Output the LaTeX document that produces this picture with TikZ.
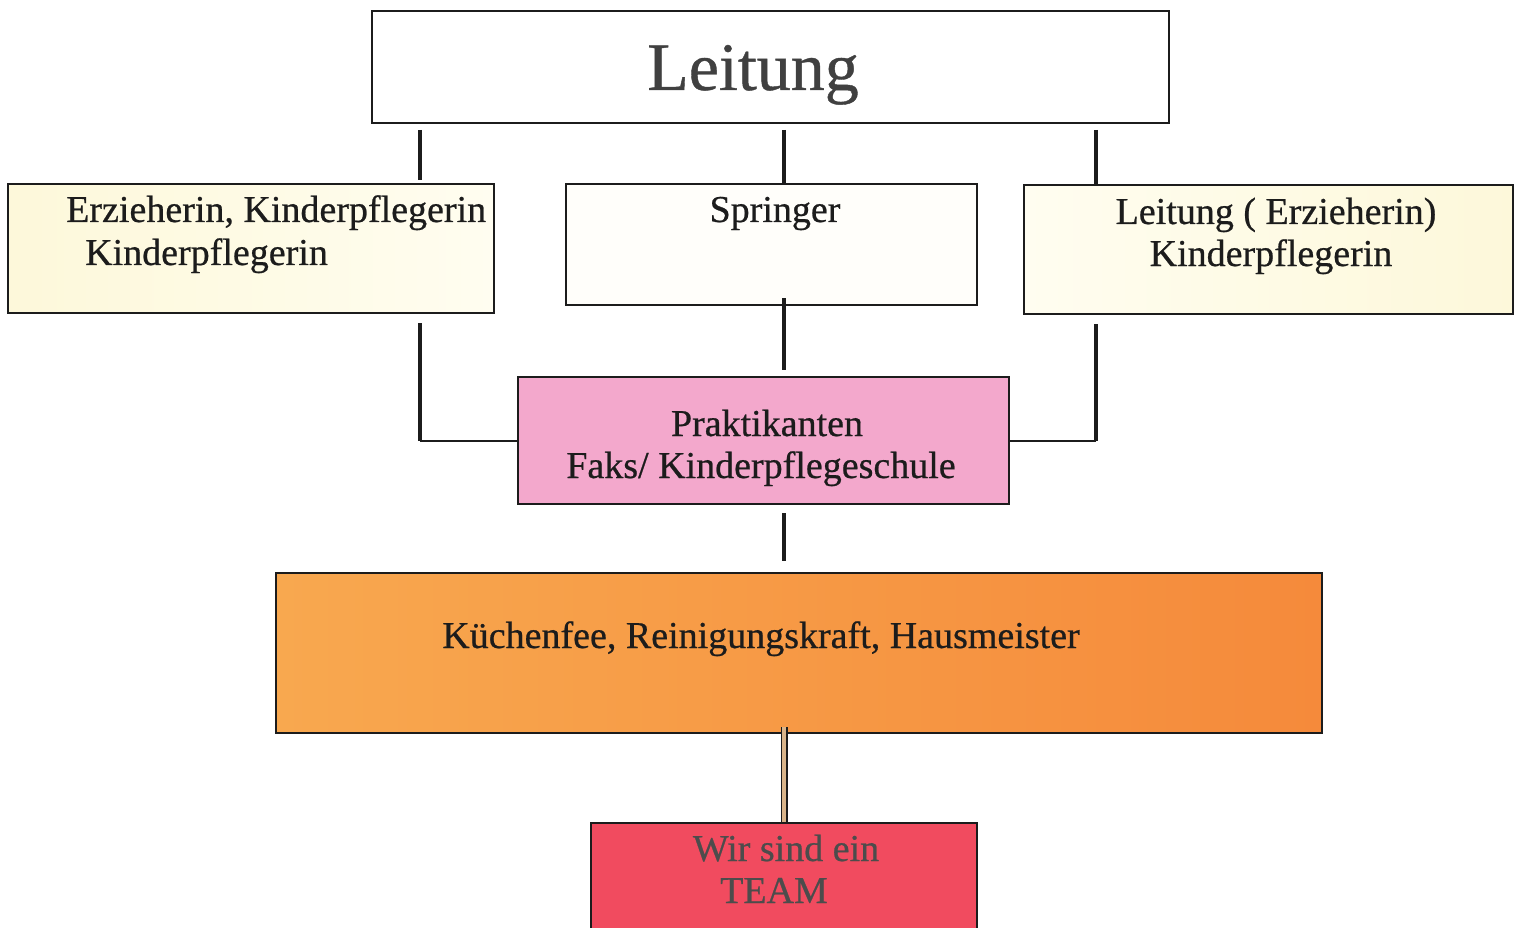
\documentclass[tikz,border=0pt]{standalone}
\usepackage{fontspec}
\setmainfont{Liberation Serif}[FakeBold=0.6]
\definecolor{cream}{HTML}{FFFDF0}
\definecolor{creamy}{HTML}{FDF8DA}
\definecolor{creamw}{HTML}{FFFEFA}
\definecolor{pinkbox}{HTML}{F3A8CC}
\definecolor{orL}{HTML}{F8A84F}
\definecolor{orR}{HTML}{F58A3B}
\definecolor{teamred}{HTML}{F14B5F}
\definecolor{ink}{HTML}{1C1C1C}
\definecolor{tan}{HTML}{D9B48A}
\tikzset{
  box/.style={draw=ink, line width=2pt, inner sep=0pt, outer sep=0pt},
  conn/.style={draw=ink, line width=4.5pt},
  thin/.style={draw=ink, line width=2pt},
  txt/.style={anchor=base, inner sep=0pt, text=ink, font=\fontsize{38}{44}\selectfont},
}
\begin{document}
\begin{tikzpicture}[x=1pt,y=-1pt]
\useasboundingbox[fill=white] (0,0) rectangle (1521,928);
% boxes
\node[box, fill=white, minimum width=797pt, minimum height=112pt] (lead) at (770.5,67) {};
\node[box, left color=creamy, right color=cream, minimum width=486pt, minimum height=129pt] (left) at (251,248.5) {};
\node[box, fill=creamw, minimum width=411pt, minimum height=121pt] (spr) at (771.5,244.5) {};
\node[box, left color=cream, right color=creamy, minimum width=489pt, minimum height=129pt] (right) at (1268.5,249.5) {};
\node[box, fill=pinkbox, minimum width=491pt, minimum height=127pt] (prak) at (763.5,440.5) {};
\node[box, left color=orL, right color=orR, minimum width=1046pt, minimum height=160pt] (kue) at (799,653) {};
\node[box, fill=teamred, minimum width=386pt, minimum height=120pt] (team) at (784,883) {};
% texts
\node[anchor=base, inner sep=0pt, text=black!75, font=\fontsize{68}{72}\selectfont] (tlead) at (753,90) {Leitung};
\node[txt, anchor=base west] (tl1) at (66,222) {Erzieherin, Kinderpflegerin};
\node[txt, anchor=base west] (tl2) at (85,265) {Kinderpflegerin};
\node[txt] (tspr) at (775,222) {Springer};
\node[txt] (tr1) at (1276,224) {Leitung ( Erzieherin)};
\node[txt] (tr2) at (1271,266) {Kinderpflegerin};
\node[txt] (tp1) at (767,436) {Praktikanten};
\node[txt] (tp2) at (761,478) {Faks/ Kinderpflegeschule};
\node[txt] (tk) at (761,648) {Küchenfee, Reinigungskraft, Hausmeister};
\node[txt, text=black!70] (tt1) at (786,861) {Wir sind ein};
\node[txt, text=black!70] (tt2) at (774,903) {TEAM};
% anchor columns for connectors
\coordinate (cL) at (420,0);
\coordinate (cM) at (784,0);
\coordinate (cR) at (1096,0);
% connectors
\draw[conn, shorten <=7pt, shorten >=4pt] (lead.south -| cL) -- (left.north -| cL);
\draw[conn, shorten <=7pt, shorten >=0pt] (lead.south -| cM) -- (spr.north -| cM);
\draw[conn, shorten <=7pt, shorten >=0pt] (lead.south -| cR) -- (right.north -| cR);
\draw[conn, shorten <=10pt] (left.south -| cL) -- (prak.west -| cL);
\draw[thin] (prak.west -| cL) -- (prak.west);
\draw[conn, shorten <=10pt] (right.south -| cR) -- (prak.east -| cR);
\draw[thin] (prak.east -| cR) -- (prak.east);
\draw[conn, shorten <=-7pt, shorten >=7pt] (spr.south -| cM) -- (prak.north -| cM);
\draw[conn, shorten <=9pt, shorten >=12pt] (prak.south -| cM) -- (kue.north -| cM);
\draw[draw=ink, line width=7pt, shorten <=-6pt] (kue.south -| cM) -- (team.north -| cM);
\draw[draw=tan, line width=3.5pt, shorten <=-6pt, shorten >=1pt] (kue.south -| cM) -- (team.north -| cM);
\end{tikzpicture}
\end{document}
